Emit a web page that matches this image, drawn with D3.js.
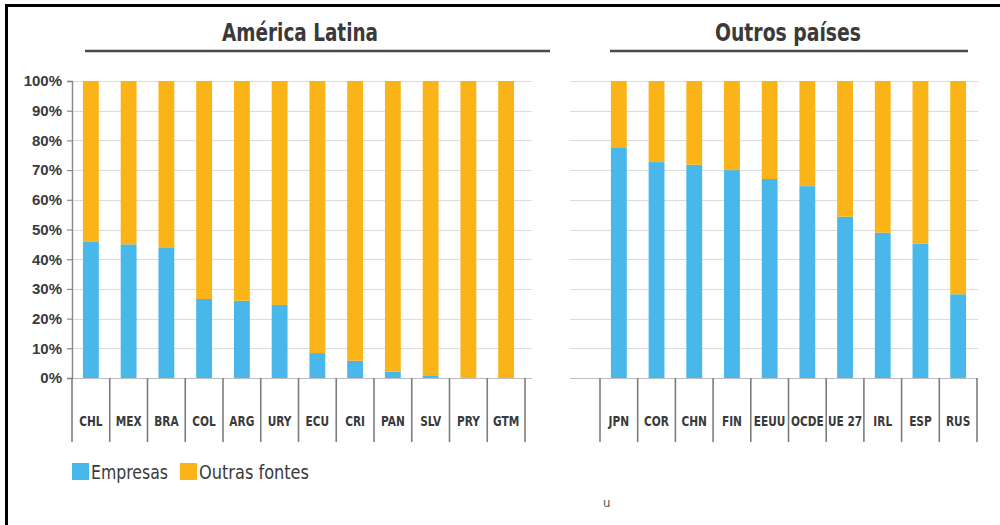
<!DOCTYPE html>
<html><head><meta charset="utf-8">
<script src="https://cdn.jsdelivr.net/npm/d3@7"></script>
<style>body{margin:0;background:#fff}svg{display:block}</style>
</head><body>
<svg id="c" width="1000" height="525"></svg>
<script>
const latCategories = ["CHL","MEX","BRA","COL","ARG","URY","ECU","CRI","PAN","SLV","PRY","GTM"];
const latEmpresas = [46,45,44,26.6,26,24.6,8.4,5.8,2.1,0.9,0,0];
const othCategories = ["JPN","COR","CHN","FIN","EEUU","OCDE","UE 27","IRL","ESP","RUS"];
const othEmpresas = [77.7,72.7,71.8,70,67,64.6,54.3,48.9,45.3,28.2];
const yTickValues = [0,10,20,30,40,50,60,70,80,90,100];
const seriesNames = ["Empresas","Outras fontes"];
const panelTitles = ["América Latina","Outros países"];
const seriesColors = ["#47b8e9","#fbb417"];

const svg = d3.select("#c");
const NARROW = "'DejaVu Sans Condensed','Liberation Sans Narrow','Arial Narrow',sans-serif";
const SANS = "'Liberation Sans',Arial,sans-serif";

const y = d3.scaleLinear().domain([0,100]).range([378,81]);

// frame
svg.append("line").attr("x1",5).attr("x2",1000).attr("y1",5.5).attr("y2",5.5).attr("stroke","#000").attr("stroke-width",3);
svg.append("line").attr("x1",6.5).attr("x2",6.5).attr("y1",4).attr("y2",525).attr("stroke","#000").attr("stroke-width",3);

function squeeze(sel, factor){
  sel.each(function(){
    const w = this.getComputedTextLength();
    d3.select(this).attr("textLength", w*factor).attr("lengthAdjust","spacingAndGlyphs");
  });
}

function panel(cats, emp, bandRange, gridRange, title, titleX, titleW, ruleRange, withAxis){
  const x = d3.scaleBand().domain(cats).range(bandRange).padding(0);
  const bw = x.bandwidth();
  const g = svg.append("g");
  g.selectAll("line.grid").data(yTickValues).join("line")
    .attr("x1",gridRange[0]).attr("x2",gridRange[1])
    .attr("y1",d=>Math.round(y(d))+0.5).attr("y2",d=>Math.round(y(d))+0.5)
    .attr("stroke",d=>d===0?"#bdbdbd":"#dcdcdc").attr("stroke-width",1.2);
  if(withAxis){
    const ax = g.append("g").attr("transform",`translate(${bandRange[0]},0)`)
      .call(d3.axisLeft(y).tickValues(yTickValues).tickSize(5).tickFormat(d=>d+"%"));
    ax.select(".domain").attr("stroke","#8a8a8a").attr("stroke-width",1.5);
    ax.selectAll(".tick line").attr("stroke","#8a8a8a").attr("stroke-width",1.2);
    ax.selectAll(".tick text").attr("x",-10).attr("fill","#3a3a3a")
      .style("font-family",SANS).style("font-weight","bold").style("font-size","15px");
  }
  const data = cats.map((c,i)=>({cat:c,Empresas:emp[i],"Outras fontes":100-emp[i]}));
  const stacked = d3.stack().keys(seriesNames)(data);
  const barW = bw*0.42;
  g.selectAll("g.s").data(stacked).join("g").attr("fill",(d,i)=>seriesColors[i])
    .selectAll("rect").data(d=>d).join("rect")
    .attr("x",d=>x(d.data.cat)+bw/2-barW/2).attr("width",barW)
    .attr("y",d=>y(d[1])).attr("height",d=>y(d[0])-y(d[1]));
  const bounds = cats.map(c=>x(c)).concat([x(cats[cats.length-1])+bw]);
  g.selectAll("line.sep").data(bounds).join("line")
    .attr("x1",d=>d).attr("x2",d=>d).attr("y1",378).attr("y2",442)
    .attr("stroke","#7d7d7d").attr("stroke-width",1.6);
  const lab = g.selectAll("text.cat").data(cats).join("text")
    .attr("x",d=>x(d)+bw/2).attr("y",426).attr("text-anchor","middle")
    .attr("fill","#3a3a3a").style("font-family",NARROW).style("font-weight","bold").style("font-size","14px")
    .text(d=>d);
  squeeze(lab, 0.84);
  g.append("text").attr("x",titleX).attr("y",41).attr("text-anchor","middle")
    .attr("fill","#3a3a3a").style("font-family",NARROW).style("font-weight","bold").style("font-size","24px")
    .attr("textLength",titleW).attr("lengthAdjust","spacingAndGlyphs")
    .text(title);
  g.append("line").attr("x1",ruleRange[0]).attr("x2",ruleRange[1]).attr("y1",51).attr("y2",51)
    .attr("stroke","#4a4a4a").attr("stroke-width",2.5);
}

panel(latCategories, latEmpresas, [72,525], [72,532], panelTitles[0], 300, 156, [85,550], true);
panel(othCategories, othEmpresas, [600,977], [570,978], panelTitles[1], 788, 146, [610,968], false);

// legend
const legX = [72,180];
const legW = [77,110];
const leg = svg.append("g");
seriesNames.forEach((s,i)=>{
  leg.append("rect").attr("x",legX[i]).attr("y",463).attr("width",17).attr("height",17).attr("fill",seriesColors[i]);
  leg.append("text").attr("x",legX[i]+19).attr("y",479).attr("fill","#3a3a3a")
    .style("font-family",NARROW).style("font-size","19px")
    .attr("textLength",legW[i]).attr("lengthAdjust","spacingAndGlyphs").text(s);
});
svg.append("text").attr("x",603).attr("y",507).attr("fill","#555").style("font-family",NARROW).style("font-size","13px").text("u");
</script>
</body></html>
